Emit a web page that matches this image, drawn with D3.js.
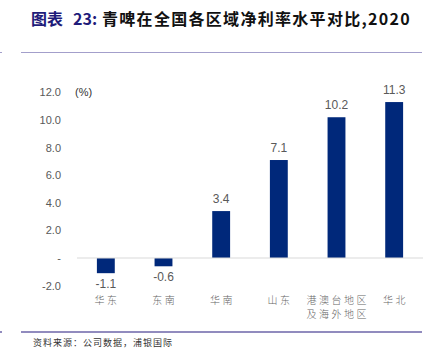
<!DOCTYPE html>
<html>
<head>
<meta charset="utf-8">
<script src="https://cdn.jsdelivr.net/npm/d3@7/dist/d3.min.js"></script>
<style>
  body { margin: 0; background: #fff; }
  svg { display: block; }
</style>
</head>
<body>
<script>
var regions = [["华东"], ["东南"], ["华南"], ["山东"], ["港澳台地区", "及海外地区"], ["华北"]];
var margins = [-1.1, -0.6, 3.4, 7.1, 10.2, 11.3];
var tickValues = [-2, 0, 2, 4, 6, 8, 10, 12];

var width = 426, height = 353;
var cjk = "'Noto Sans CJK SC', sans-serif";
var latin = "'Liberation Sans', Arial, sans-serif";
var barColor = "#00287A";
var textGrey = "#595959";
var fmt = d3.formatLocale({ decimal: ".", thousands: ",", grouping: [3], currency: ["", ""], minus: "-" }).format(".1f");

var svg = d3.select("body").append("svg")
    .attr("width", width)
    .attr("height", height);

// title
var title = svg.append("text")
    .attr("y", 25)
    .style("font-family", cjk)
    .style("font-weight", "bold")
    .style("font-size", "16px");
title.append("tspan").attr("x", 31).attr("fill", "#1F1C7A").style("letter-spacing", "0px").text("图表");
title.append("tspan").attr("x", 73).attr("fill", "#1F1C7A").text("23:");
title.append("tspan").attr("x", 102).attr("fill", "#111").style("letter-spacing", "1.3px").text("青啤在全国各区域净利率水平对比,2020");

// separator lines
svg.append("line")
    .attr("x1", 21).attr("x2", 422).attr("y1", 52.5).attr("y2", 52.5)
    .attr("stroke", "#A39FCB").attr("stroke-width", 1.2);
svg.append("line")
    .attr("x1", 0).attr("x2", 2).attr("y1", 52.5).attr("y2", 52.5)
    .attr("stroke", "#A39FCB").attr("stroke-width", 1.2);
svg.append("line")
    .attr("x1", 21).attr("x2", 422).attr("y1", 332).attr("y2", 332)
    .attr("stroke", "#6D64A8").attr("stroke-width", 1.3);
svg.append("line")
    .attr("x1", 0).attr("x2", 2).attr("y1", 332).attr("y2", 332)
    .attr("stroke", "#6D64A8").attr("stroke-width", 1.3);

// source
svg.append("text")
    .attr("x", 33)
    .attr("y", 346)
    .attr("fill", "#333")
    .style("font-family", cjk)
    .style("font-size", "9px")
    .style("letter-spacing", "1px")
    .text("资料来源：公司数据，浦银国际");

var x = d3.scaleBand()
    .domain(d3.range(regions.length))
    .range([77, 423])
    .paddingInner(0.69)
    .paddingOuter(0.345);

var y = d3.scaleLinear()
    .domain([-2, 12])
    .range([285.6, 92.4]);

// y axis labels
var yAxis = d3.axisLeft(y)
    .tickValues(tickValues)
    .tickSize(0)
    .tickPadding(0)
    .tickFormat(function(d) { return d === 0 ? "-" : fmt(d); });

var gy = svg.append("g")
    .attr("transform", "translate(61,0)")
    .call(yAxis);
gy.select(".domain").remove();
gy.selectAll("text")
    .attr("fill", textGrey)
    .style("font-family", latin)
    .style("font-size", "11px");

svg.append("text")
    .attr("x", 75)
    .attr("y", 96)
    .attr("fill", "#333")
    .style("font-family", latin)
    .style("font-size", "11px")
    .text("(%)");

// bars
svg.selectAll(".bar")
    .data(margins)
    .enter()
    .append("rect")
    .attr("class", "bar")
    .attr("x", function(d, i) { return x(i); })
    .attr("width", x.bandwidth())
    .attr("y", function(d) { return y(Math.max(0, d)); })
    .attr("height", function(d) { return Math.abs(y(d) - y(0)); })
    .attr("fill", barColor);

// zero line
svg.append("line")
    .attr("x1", 77).attr("x2", 423)
    .attr("y1", y(0)).attr("y2", y(0))
    .attr("stroke", "#D9D9D9").attr("stroke-width", 1);

// value labels
svg.selectAll(".val")
    .data(margins)
    .enter()
    .append("text")
    .attr("class", "val")
    .attr("x", function(d, i) { return x(i) + x.bandwidth() / 2; })
    .attr("y", function(d) { return d >= 0 ? y(d) - 8 : y(d) + 15; })
    .attr("text-anchor", "middle")
    .attr("fill", textGrey)
    .style("font-family", latin)
    .style("font-size", "12px")
    .text(function(d) { return fmt(d); });

// category labels
var cats = svg.selectAll(".cat")
    .data(regions)
    .enter()
    .append("text")
    .attr("class", "cat")
    .attr("text-anchor", "middle")
    .attr("fill", "#666")
    .style("font-family", cjk)
    .style("font-size", "10px")
    .style("font-weight", "300")
    .style("letter-spacing", "2.5px");
cats.selectAll("tspan")
    .data(function(d, i) { return d.map(function(s) { return { s: s, i: i }; }); })
    .enter()
    .append("tspan")
    .attr("x", function(d) { return x(d.i) + x.bandwidth() / 2 + 1.25; })
    .attr("y", function(d, j) { return 304 + j * 14; })
    .text(function(d) { return d.s; });
</script>
</body>
</html>
